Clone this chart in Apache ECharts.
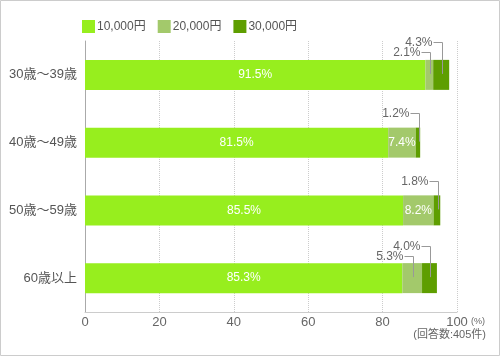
<!DOCTYPE html>
<html><head><meta charset="utf-8">
<script src="https://cdn.jsdelivr.net/npm/echarts@6/dist/echarts.min.js"></script>
<style>html,body{margin:0;padding:0;background:#fff}#c{width:500px;height:356px}</style>
</head><body><div id="c"></div>
<script>
const categories = ['30歳～39歳', '40歳～49歳', '50歳～59歳', '60歳以上'];
const seriesNames = ['10,000円', '20,000円', '30,000円'];
const v10000 = [91.5, 81.5, 85.5, 85.3];
const v20000 = [2.1, 7.4, 8.2, 5.3];
const v30000 = [4.3, 1.2, 1.8, 4.0];
const xMin = 0, xMax = 100, xInterval = 20;
const unitLabel = '(%)';
const noteLabel = '(回答数:405件)';

const colors = ['#97ee1e', '#a3c96b', '#5e9e00'];
const FONT = '"Liberation Sans","Noto Sans CJK JP",sans-serif';
const INSIDE_MIN = 6;
const BAR_W = 30;

const allVals = [v10000, v20000, v30000];
// callouts for small segments
const callouts = [];
const perRow = categories.map(() => 0);
for (let s = 1; s < allVals.length; s++) {
  for (let r = 0; r < categories.length; r++) {
    const v = allVals[s][r];
    if (v < INSIDE_MIN) {
      let start = 0;
      for (let k = 0; k < s; k++) start += allVals[k][r];
      callouts.push([start, start + v, r, s, v]);
      perRow[r]++;
    }
  }
}

const chart = echarts.init(document.getElementById('c'), null, {renderer: 'canvas'});

const barSeries = allVals.map((vals, i) => ({
  name: seriesNames[i],
  type: 'bar',
  stack: 'total',
  barWidth: BAR_W,
  data: vals,
  itemStyle: {color: colors[i]},
  label: {
    show: true,
    position: 'inside',
    color: '#fff',
    fontSize: 12,
    fontFamily: FONT,
    formatter: p => p.value >= INSIDE_MIN ? p.value.toFixed(1) + '%' : ''
  },
  emphasis: {disabled: true},
  silent: true
}));

const calloutSeries = {
  type: 'custom',
  coordinateSystem: 'cartesian2d',
  silent: true,
  z: 10,
  data: callouts,
  renderItem: function (params, api) {
    const start = api.value(0), end = api.value(1), row = api.value(2), s = api.value(3), v = api.value(4);
    const p0 = api.coord([start, row]);
    const p1 = api.coord([end, row]);
    const cy = p0[1];
    const barTop = cy - BAR_W / 2;
    const x = Math.round((p0[0] + p1[0]) / 2 + 1) + 0.5;
    let rise;
    if (perRow[row] > 1) rise = (s === 2 ? 17.5 : 7.5);
    else rise = 14.5;
    const ly = Math.round(barTop - rise) + 0.5;
    const by = cy - 1;
    return {
      type: 'group',
      children: [
        {type: 'polyline', shape: {points: [[x - 9, ly], [x, ly], [x, by]]},
         style: {stroke: '#999', lineWidth: 1, fill: null}},
        {type: 'text', style: {text: v.toFixed(1) + '%', x: x - 10, y: ly,
          align: 'right', verticalAlign: 'middle', fill: '#666', fontSize: 12, fontFamily: FONT}}
      ]
    };
  }
};

chart.setOption({
  animation: false,
  backgroundColor: '#fff',
  textStyle: {fontFamily: FONT},
  legend: {
    left: 82, top: 20, padding: 0,
    itemWidth: 13, itemHeight: 13, itemGap: 12,
    icon: 'rect',
    data: seriesNames,
    selectedMode: false,
    textStyle: {fontSize: 12, color: '#555', fontFamily: FONT, padding: [0, 0, 0, -3]}
  },
  grid: {left: 85, right: 43, top: 41, bottom: 44, containLabel: false},
  xAxis: {
    type: 'value', min: xMin, max: xMax, interval: xInterval,
    axisLine: {show: true, lineStyle: {color: '#ccc'}},
    axisTick: {show: false},
    axisLabel: {fontSize: 13, color: '#666', margin: 4, fontFamily: FONT},
    splitLine: {show: true, lineStyle: {type: 'dotted', color: '#ccc'}}
  },
  yAxis: {
    type: 'category', inverse: true, data: categories,
    axisLine: {show: true, lineStyle: {color: '#aaa'}},
    axisTick: {show: false},
    axisLabel: {fontSize: 13, color: '#555', margin: 8, fontFamily: FONT}
  },
  graphic: [
    {type: 'rect', shape: {x: 0.5, y: 0.5, width: 499, height: 355}, style: {fill: null, stroke: '#ccc'}, silent: true},
    {type: 'text', left: 471, top: 317, style: {text: unitLabel, fontSize: 9, fill: '#666', fontFamily: FONT}},
    {type: 'text', right: 14, top: 329, style: {text: noteLabel, fontSize: 11, fill: '#666', fontFamily: FONT}}
  ],
  series: barSeries.concat([calloutSeries])
});
</script>
</body></html>
